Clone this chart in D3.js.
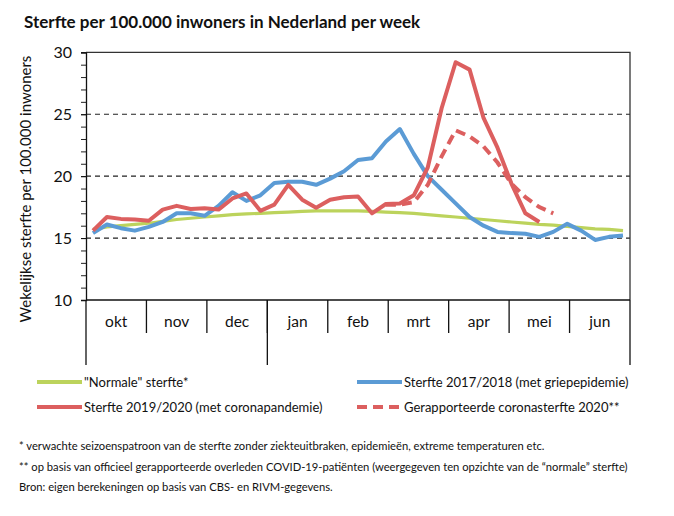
<!DOCTYPE html>
<html><head><meta charset="utf-8">
<script src="https://cdn.jsdelivr.net/npm/d3@7"></script>
<style>
body{margin:0;background:#fff;}
svg{display:block;font-family:Lato,"Open Sans",sans-serif;}
</style></head>
<body>
<svg id="c" width="674" height="516"></svg>
<script>
const months = ["okt","nov","dec","jan","feb","mrt","apr","mei","jun"];
const yTicks = [10,15,20,25,30];
const normal = [15.7,15.9,16.0,16.1,16.2,16.35,16.5,16.6,16.7,16.8,16.9,16.95,17.0,17.05,17.1,17.15,17.2,17.2,17.2,17.2,17.15,17.1,17.05,17.0,16.9,16.8,16.7,16.6,16.5,16.4,16.3,16.2,16.1,16.05,15.95,15.85,15.75,15.7,15.6];
const flu1718 = [15.4,16.1,15.8,15.6,15.9,16.3,17.0,17.0,16.8,17.6,18.7,18.0,18.45,19.45,19.55,19.55,19.3,19.8,20.4,21.3,21.45,22.8,23.8,21.8,20.0,18.9,17.8,16.7,16.0,15.5,15.4,15.35,15.1,15.5,16.15,15.6,14.85,15.1,15.2];
const corona1920 = [15.6,16.7,16.55,16.5,16.4,17.3,17.6,17.35,17.4,17.3,18.2,18.6,17.2,17.7,19.3,18.1,17.45,18.1,18.3,18.35,17.0,17.75,17.8,18.45,20.7,25.5,29.2,28.6,24.7,22.3,19.4,17.0,16.3];
const reported2020 = [null,null,null,null,null,null,null,null,null,null,null,null,null,null,null,null,null,null,null,null,null,17.7,17.7,17.9,19.3,21.6,23.7,23.2,22.4,21.1,19.4,18.3,17.5,17.0];
const nWeeks = 39;

const svg = d3.select("#c");
const L=86, R=630, T=52.3, B=300;
const x = d3.scaleLinear().domain([0,nWeeks]).range([L,R]);
const y = d3.scaleLinear().domain([10,30]).range([B,T]);
const mb = d3.scaleBand().domain(months).range([L,R]);

// title
svg.append("text").attr("x",24).attr("y",28).attr("font-weight","bold").attr("font-size",17)
  .attr("fill","#111").text("Sterfte per 100.000 inwoners in Nederland per week");

// gridlines
svg.append("g").selectAll("line").data([15,20,25]).join("line")
  .attr("x1",L).attr("x2",R).attr("y1",d=>y(d)).attr("y2",d=>y(d))
  .attr("stroke","#222").attr("stroke-width",1.2).attr("stroke-dasharray","5,4");

// frame top/right
svg.append("path").attr("d",`M${L},${T}H${R}V${B}`).attr("fill","none").attr("stroke","#333").attr("stroke-width",1.3);

// y axis minor
const gMinor = svg.append("g").attr("transform",`translate(${L},0)`)
  .call(d3.axisLeft(y).tickValues(d3.range(10,31,1)).tickSize(5).tickFormat(""));
gMinor.select(".domain").remove();
gMinor.selectAll("line").attr("stroke","#222");
const gY = svg.append("g").attr("transform",`translate(${L},0)`)
  .call(d3.axisLeft(y).tickValues(yTicks).tickSize(5).tickPadding(9));
gY.select(".domain").attr("stroke","#111").attr("stroke-width",1.3);
gY.selectAll("line").attr("stroke","#111");
gY.selectAll("text").attr("font-size",16).attr("font-family","Lato,sans-serif").attr("fill","#111");

// x axis
svg.append("line").attr("x1",L).attr("x2",R).attr("y1",B).attr("y2",B).attr("stroke","#111").attr("stroke-width",1.3);
svg.append("g").selectAll("line").data(months.slice(1)).join("line")
  .attr("x1",d=>mb(d)).attr("x2",d=>mb(d)).attr("y1",B).attr("y2",333)
  .attr("stroke","#111").attr("stroke-width",1.3);
svg.append("g").selectAll("line").data([L, mb("jan"), R]).join("line")
  .attr("x1",d=>d).attr("x2",d=>d).attr("y1",B).attr("y2",365)
  .attr("stroke","#111").attr("stroke-width",1.3);
svg.append("g").selectAll("text").data(months).join("text")
  .attr("x",d=>mb(d)+mb.bandwidth()/2).attr("y",327).attr("text-anchor","middle")
  .attr("font-size",15.5).attr("fill","#111").text(d=>d);

// y label
svg.append("text").attr("transform","translate(31,189) rotate(-90)").attr("text-anchor","middle")
  .attr("font-size",15).attr("fill","#111").text("Wekelijkse sterfte per 100.000 inwoners");

// lines
const line = d3.line().defined(d=>d!=null).x((d,i)=>x(i+0.5)).y(d=>y(d));
const cGreen="#BCD35C", cBlue="#5B9BD5", cRed="#DC5F5F";
svg.append("path").datum(normal).attr("d",line).attr("fill","none").attr("stroke",cGreen).attr("stroke-width",3.2);
svg.append("path").datum(flu1718).attr("d",line).attr("fill","none").attr("stroke",cBlue).attr("stroke-width",4).attr("stroke-linejoin","round");
svg.append("path").datum(reported2020).attr("d",line).attr("fill","none").attr("stroke",cRed).attr("stroke-width",4).attr("stroke-dasharray","10,6");
svg.append("path").datum(corona1920).attr("d",line).attr("fill","none").attr("stroke",cRed).attr("stroke-width",4).attr("stroke-linejoin","round");

// legend
const leg = [
  {t:'"Normale" sterfte*', c:cGreen, d:null, x:37, y:382},
  {t:"Sterfte 2017/2018 (met griepepidemie)", c:cBlue, d:null, x:357, y:382},
  {t:"Sterfte 2019/2020 (met coronapandemie)", c:cRed, d:null, x:37, y:407},
  {t:"Gerapporteerde coronasterfte 2020**", c:cRed, d:"10,6", x:357, y:407}
];
const lg = svg.append("g").selectAll("g").data(leg).join("g");
lg.append("line").attr("x1",d=>d.x).attr("x2",d=>d.x+45).attr("y1",d=>d.y).attr("y2",d=>d.y)
  .attr("stroke",d=>d.c).attr("stroke-width",4).attr("stroke-dasharray",d=>d.d);
lg.append("text").attr("x",d=>d.x+47).attr("y",d=>d.y+5).attr("font-size",13).attr("fill","#111").text(d=>d.t);

// footnotes
const notes = [
  "* verwachte seizoenspatroon van de sterfte zonder ziekteuitbraken, epidemieën, extreme temperaturen etc.",
  "** op basis van officieel gerapporteerde overleden COVID-19-patiënten (weergegeven ten opzichte van de “normale” sterfte)",
  "Bron: eigen berekeningen op basis van CBS- en RIVM-gegevens."
];
svg.append("g").selectAll("text").data(notes).join("text")
  .attr("x",19).attr("y",(d,i)=>450+i*20.5).attr("font-size",11.2).attr("fill","#111").text(d=>d);
</script>
</body></html>
